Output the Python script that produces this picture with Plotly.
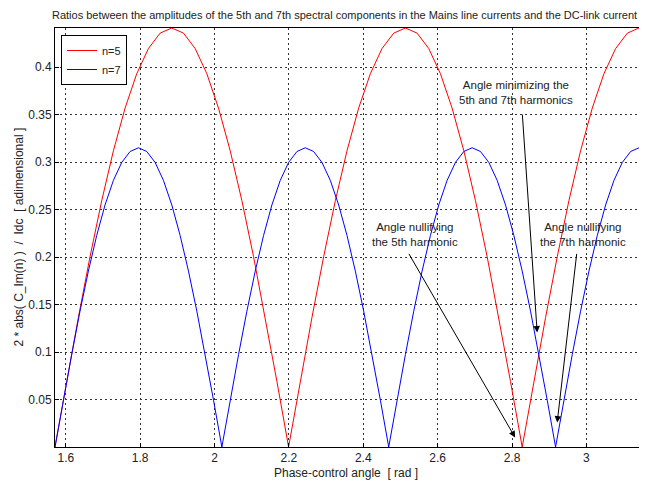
import plotly.graph_objects as go

# ---- data ----
x_n5 = [1.5708, 1.6022, 1.6336, 1.6650, 1.6965, 1.7279, 1.7593, 1.7907, 1.8221, 1.8535,
        1.8850, 1.9164, 1.9478, 1.9792, 2.0106, 2.0420, 2.0735, 2.1049, 2.1363, 2.1677,
        2.1991, 2.2305, 2.2619, 2.2934, 2.3248, 2.3562, 2.3876, 2.4190, 2.4504, 2.4819,
        2.5133, 2.5447, 2.5761, 2.6075, 2.6389, 2.6704, 2.7018, 2.7332, 2.7646, 2.7960,
        2.8274, 2.8588, 2.8903, 2.9217, 2.9531, 2.9845, 3.0159, 3.0473, 3.0788, 3.1102,
        3.1416]
y_n5 = [0.0000, 0.0690, 0.1363, 0.2003, 0.2593, 0.3119, 0.3568, 0.3930, 0.4195, 0.4357,
        0.4411, 0.4357, 0.4195, 0.3930, 0.3568, 0.3119, 0.2593, 0.2003, 0.1363, 0.0690,
        0.0000, 0.0690, 0.1363, 0.2003, 0.2593, 0.3119, 0.3568, 0.3930, 0.4195, 0.4357,
        0.4411, 0.4357, 0.4195, 0.3930, 0.3568, 0.3119, 0.2593, 0.2003, 0.1363, 0.0690,
        0.0000, 0.0690, 0.1363, 0.2003, 0.2593, 0.3119, 0.3568, 0.3930, 0.4195, 0.4357,
        0.4411]

x_n7 = [1.5708, 1.5932, 1.6157, 1.6381, 1.6606, 1.6830, 1.7054, 1.7279, 1.7503, 1.7728,
        1.7952, 1.8176, 1.8401, 1.8625, 1.8850, 1.9074, 1.9298, 1.9523, 1.9747, 1.9972,
        2.0196, 2.0420, 2.0645, 2.0869, 2.1094, 2.1318, 2.1542, 2.1767, 2.1991, 2.2216,
        2.2440, 2.2664, 2.2889, 2.3113, 2.3338, 2.3562, 2.3786, 2.4011, 2.4235, 2.4460,
        2.4684, 2.4908, 2.5133, 2.5357, 2.5582, 2.5806, 2.6030, 2.6255, 2.6479, 2.6704,
        2.6928, 2.7152, 2.7377, 2.7601, 2.7826, 2.8050, 2.8274, 2.8499, 2.8723, 2.8948,
        2.9172, 2.9396, 2.9621, 2.9845, 3.0070, 3.0294, 3.0518, 3.0743, 3.0967, 3.1192,
        3.1416]
y_n7 = [0.0000, 0.0493, 0.0973, 0.1430, 0.1852, 0.2227, 0.2548, 0.2807, 0.2996, 0.3111,
        0.3150, 0.3111, 0.2996, 0.2807, 0.2548, 0.2227, 0.1852, 0.1430, 0.0973, 0.0493,
        0.0000, 0.0493, 0.0973, 0.1430, 0.1852, 0.2227, 0.2548, 0.2807, 0.2996, 0.3111,
        0.3150, 0.3111, 0.2996, 0.2807, 0.2548, 0.2227, 0.1852, 0.1430, 0.0973, 0.0493,
        0.0000, 0.0493, 0.0973, 0.1430, 0.1852, 0.2227, 0.2548, 0.2807, 0.2996, 0.3111,
        0.3150, 0.3111, 0.2996, 0.2807, 0.2548, 0.2227, 0.1852, 0.1430, 0.0973, 0.0493,
        0.0000, 0.0493, 0.0973, 0.1430, 0.1852, 0.2227, 0.2548, 0.2807, 0.2996, 0.3111,
        0.3150]

series_names = ["n=5", "n=7"]

x_tick_vals = [1.6, 1.8, 2.0, 2.2, 2.4, 2.6, 2.8, 3.0]
x_tick_text = ["1.6", "1.8", "2", "2.2", "2.4", "2.6", "2.8", "3"]
y_tick_vals = [0.05, 0.1, 0.15, 0.2, 0.25, 0.3, 0.35, 0.4]
y_tick_text = ["0.05", "0.1", "0.15", "0.2", "0.25", "0.3", "0.35", "0.4"]

title_text = ("Ratios between the amplitudes of the 5th and 7th spectral components "
              "in the Mains line currents and the DC-link current")
x_label = "Phase-control angle  [ rad ]"
y_label = "2 * abs( C_Im(n) )  /  Idc  [ adimensional ]"

notes = [
    {"text": "Angle nullifying<br>the 5th harmonic", "tx": 2.5393, "ty": 0.2239,
     "hx": 2.8085, "hy": 0.0099, "sx": 2.5205, "sy": 0.2049},
    {"text": "Angle minimizing the<br>5th and 7th harmonics", "tx": 2.8111, "ty": 0.3736,
     "hx": 2.8677, "hy": 0.1206, "sx": 2.8276, "sy": 0.3516},
    {"text": "Angle nullifying<br>the 7th harmonic", "tx": 2.9914, "ty": 0.2239,
     "hx": 2.9215, "hy": 0.0257, "sx": 2.9745, "sy": 0.2049},
]

FONT = "Liberation Sans, Arial, sans-serif"
TXT = "#222222"

# the page body adds an 8px margin, so the figure is laid out 8px smaller
OFF = 8
W, H = 647 - OFF, 481 - OFF
L, T = 55 - OFF, 28 - OFF
R = W - (639 - OFF)
B = H - (447 - OFF)
PW, PH = W - L - R, H - T - B


def px(xpage):
    return (xpage - OFF - L) / PW


def py(ypage):
    return (H - B - (ypage - OFF)) / PH


fig = go.Figure()
fig.add_trace(go.Scatter(x=x_n5, y=y_n5, mode="lines", name=series_names[0],
                         line=dict(color="#ff0000", width=1)))
fig.add_trace(go.Scatter(x=x_n7, y=y_n7, mode="lines", name=series_names[1],
                         line=dict(color="#0000ff", width=1)))

annotations = []
for n in notes:
    annotations.append(dict(
        x=n["hx"], y=n["hy"], ax=n["sx"], ay=n["sy"],
        xref="x", yref="y", axref="x", ayref="y",
        text="", showarrow=True, arrowhead=2, arrowsize=1.3, arrowwidth=1,
        arrowcolor="#000000", standoff=0, startstandoff=0))
    annotations.append(dict(
        x=n["tx"], y=n["ty"], xref="x", yref="y", text=n["text"],
        showarrow=False, xanchor="center", yanchor="middle",
        font=dict(family=FONT, size=11.5, color=TXT)))

annotations.append(dict(
    text=title_text, xref="paper", yref="paper", x=px(344), y=py(15),
    xanchor="center", yanchor="middle", showarrow=False,
    font=dict(family=FONT, size=11, color=TXT)))
annotations.append(dict(
    text=x_label, xref="paper", yref="paper", x=px(346), y=py(473),
    xanchor="center", yanchor="middle", showarrow=False,
    font=dict(family=FONT, size=12, color=TXT)))
annotations.append(dict(
    text=y_label, xref="paper", yref="paper", x=px(18), y=0.5,
    xanchor="center", yanchor="middle", showarrow=False, textangle=-90,
    font=dict(family=FONT, size=12, color=TXT)))

axis_common = dict(
    showline=True, linecolor="#000000", linewidth=1, mirror=True,
    showgrid=True, gridcolor="#333333", gridwidth=1, griddash="2px,3px",
    zeroline=False, ticks="inside", ticklen=4, tickcolor="#000000",
    tickfont=dict(family=FONT, size=12, color=TXT), automargin=False,
)

fig.update_layout(
    width=W, height=H,
    margin=dict(l=L, r=R, t=T, b=B, autoexpand=False),
    paper_bgcolor="#ffffff", plot_bgcolor="#ffffff",
    font=dict(family=FONT, size=12, color=TXT),
    xaxis=dict(range=[1.5708, 3.1416], tickvals=x_tick_vals, ticktext=x_tick_text,
               **axis_common),
    yaxis=dict(range=[0, 0.4411], tickvals=y_tick_vals, ticktext=y_tick_text,
               **axis_common),
    legend=dict(x=px(61), y=py(35), xanchor="left", yanchor="top",
                bgcolor="#ffffff", bordercolor="#000000", borderwidth=1,
                font=dict(family=FONT, size=11, color=TXT),
                tracegroupgap=0, itemwidth=30),
    annotations=annotations,
    showlegend=True,
)

fig.write_html("out.html")
